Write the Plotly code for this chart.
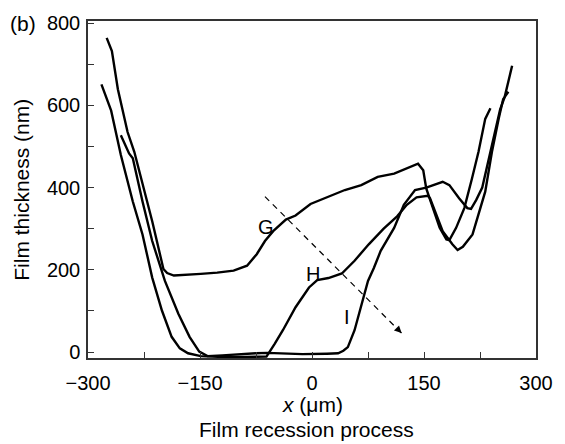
import plotly.graph_objects as go

# Curve G
g_x = [-275, -268, -260, -247, -238, -221, -214, -199, -194, -185, -170, -149, -127, -105, -87, -74, -63,
       -52, -35, -22, -2, 22, 44, 66, 88, 110, 131, 142, 149, 153, 162, 171, 180, 184, 193, 204, 214, 223, 232, 239]
g_y = [764, 732, 639, 535, 487, 366, 318, 202, 192, 186, 187, 190, 193, 198, 210, 238, 270,
       294, 322, 332, 360, 378, 394, 406, 426, 434, 450, 458, 442, 398, 350, 302, 274, 272, 302, 350, 420, 487, 567, 593]

# Curve H
h_x = [-282, -269, -256, -240, -227, -214, -201, -188, -177, -166, -149, -120, -90, -61, -50, -39, -22, -4, 7, 22, 40,
       57, 76, 96, 114, 127, 140, 155, 158, 166, 175, 188, 195, 202, 215, 232, 241, 250, 256, 263]
h_y = [651, 587, 479, 366, 286, 181, 101, 37, 9, -3, -10, -12, -12, -11, 20, 53, 109, 157, 175, 180, 191,
       222, 262, 300, 330, 358, 376, 380, 374, 334, 294, 262, 248, 256, 286, 390, 487, 567, 615, 633]

# Curve I
i_x = [-256, -245, -240, -227, -214, -197, -179, -164, -151, -140, -120, -100, -75, -60, -40, -13, 20, 35, 42, 48,
       57, 68, 75, 83, 92, 110, 123, 138, 153, 175, 184, 197, 208, 213, 220, 228, 236, 245, 252, 258, 263, 268]
i_y = [527, 483, 471, 366, 270, 173, 93, 37, 1, -10, -8, -5, -3, -2, -3, -5, -4, -3, 3, 12,
       53, 129, 173, 205, 246, 302, 358, 394, 400, 414, 406, 374, 350, 348, 370, 400, 463, 540, 590, 620, 660, 696]

curve_names = ["G", "H", "I"]
label_x = [-61, 1, 47]
label_y = [303, 190, 85]

arrow_x = [-63, 120]
arrow_y = [378, 46]

x_ticks = [-300, -150, 0, 150, 300]
y_ticks = [0, 200, 400, 600, 800]

FONT = "Liberation Sans, Arial, sans-serif"

fig = go.Figure()
for xs, ys, nm in [(g_x, g_y, "G"), (h_x, h_y, "H"), (i_x, i_y, "I")]:
    fig.add_trace(go.Scatter(x=xs, y=ys, mode="lines", name=nm,
                             line=dict(color="black", width=2.4),
                             hoverinfo="skip", showlegend=False))

# dashed arrow line
fig.add_trace(go.Scatter(x=arrow_x, y=arrow_y, mode="lines",
                         line=dict(color="black", width=1.2, dash="6px,5px"),
                         showlegend=False, hoverinfo="skip"))

annotations = []
for nm, lx, ly in zip(curve_names, label_x, label_y):
    annotations.append(dict(x=lx, y=ly, xref="x", yref="y", text=nm, showarrow=False,
                            xanchor="center", yanchor="middle",
                            font=dict(size=20, color="black", family=FONT)))

# arrowhead
annotations.append(dict(x=arrow_x[1], y=arrow_y[1], xref="x", yref="y",
                        ax=arrow_x[1] - (arrow_x[1] - arrow_x[0]) * 0.04,
                        ay=arrow_y[1] - (arrow_y[1] - arrow_y[0]) * 0.04,
                        axref="x", ayref="y", text="", showarrow=True,
                        arrowhead=2, arrowsize=1.2, arrowwidth=1.2, arrowcolor="black"))

annotations += [
    dict(x=0.5, y=-0.138, xref="paper", yref="paper", text="<i>x</i> (μm)", showarrow=False,
         xanchor="center", yanchor="middle", font=dict(size=21, color="black")),
    dict(x=0.487, y=-0.212, xref="paper", yref="paper", text="Film recession process", showarrow=False,
         xanchor="center", yanchor="middle", font=dict(size=21, color="black")),
    dict(x=-0.149, y=0.5, xref="paper", yref="paper", text="Film thickness (nm)", showarrow=False,
         xanchor="center", yanchor="middle", textangle=-90, font=dict(size=21, color="black")),
    dict(x=-0.144, y=0.994, xref="paper", yref="paper", text="(b)", showarrow=False,
         xanchor="center", yanchor="middle", font=dict(size=21, color="black")),
]

fig.update_layout(
    width=565, height=444,
    margin=dict(l=88, r=20, t=18, b=86),
    paper_bgcolor="white", plot_bgcolor="white",
    font=dict(family=FONT, size=20, color="black"),
    annotations=annotations,
    showlegend=False,
)
fig.update_xaxes(range=[-300, 300], tickvals=x_ticks, ticks="inside", ticklen=6, tickwidth=1.3,
                 tickcolor="#333", showline=True, linecolor="#333", linewidth=1.5, mirror=True,
                 showgrid=False, zeroline=False, ticklabelstandoff=6,
                 minor=dict(dtick=75, tick0=0, ticks="inside", ticklen=6, tickwidth=1.3, tickcolor="#333", showgrid=False),
                 tickfont=dict(size=20, color="black"))
fig.update_yaxes(range=[-14.5, 805], tickvals=y_ticks, ticks="inside", ticklen=6, tickwidth=1.3,
                 tickcolor="#333", showline=True, linecolor="#333", linewidth=1.5, mirror=True,
                 showgrid=False, zeroline=False, ticklabelstandoff=2,
                 minor=dict(dtick=100, tick0=0, ticks="inside", ticklen=6, tickwidth=1.3, tickcolor="#333", showgrid=False),
                 tickfont=dict(size=20, color="black"))

fig.write_html("out.html", config={"displayModeBar": False},
               post_script="document.body.style.margin='0px';document.body.style.overflow='hidden';")
